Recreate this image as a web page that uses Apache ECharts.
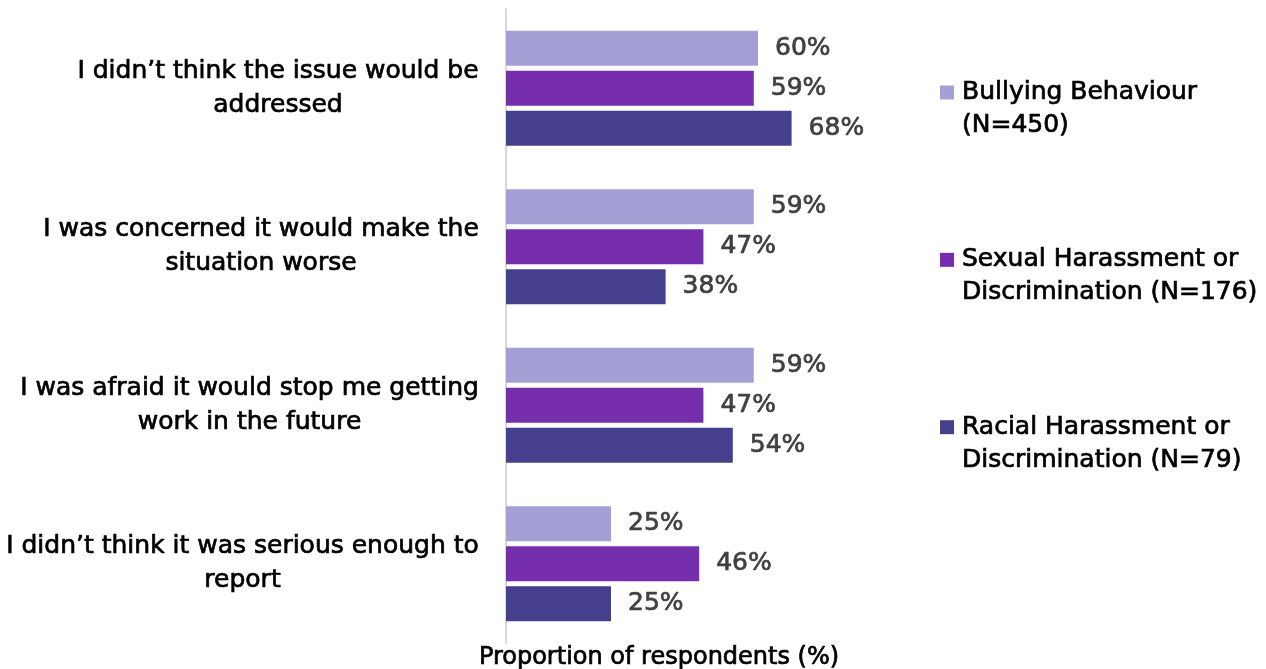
<!DOCTYPE html>
<html>
<head>
<meta charset="utf-8">
<script src="https://cdn.jsdelivr.net/npm/echarts@6/dist/echarts.min.js"></script>
<style>
  html, body { margin: 0; padding: 0; background: #ffffff; }
  #chart { width: 1266px; height: 669px; }
</style>
</head>
<body>
<div id="chart"></div>
<script>
// Reasons for not reporting, by type of experience
const categories = [
  "I didn\u2019t think the issue would be\naddressed",
  "I was concerned it would make the\nsituation worse",
  "I was afraid it would stop me getting\nwork in the future",
  "I didn\u2019t think it was serious enough to\nreport"
];
const seriesNames = [
  "Bullying Behaviour\n(N=450)",
  "Sexual Harassment or\nDiscrimination (N=176)",
  "Racial Harassment or\nDiscrimination (N=79)"
];
const bullying = [60, 59, 59, 25];
const sexual = [59, 47, 47, 46];
const racial = [68, 38, 54, 25];
const colors = ["#A49FD5", "#762EAD", "#463F8D"];

const FONT_FAMILY = "'DejaVu Sans', 'Liberation Sans', Arial, sans-serif";
const FONT_SIZE = 25;
const HEAVY = 0.7; // thin outline in the text colour gives a medium weight

// Width of the widest line of each category label, so every line can be
// centred inside one box that sits right-aligned against the axis.
const ctx = document.createElement("canvas").getContext("2d");
ctx.font = FONT_SIZE + "px " + FONT_FAMILY;
const labelRich = {};
categories.forEach(function (c, i) {
  const w = Math.max.apply(null, c.split("\n").map(function (l) { return ctx.measureText(l).width; }));
  labelRich["c" + i] = {
    width: Math.ceil(w) + 2,
    align: "center",
    color: "#000000",
    textBorderColor: "#000000",
    textBorderWidth: HEAVY,
    fontFamily: FONT_FAMILY,
    fontSize: FONT_SIZE,
    lineHeight: 34
  };
});

function makeSeries(name, data, color) {
  return {
    name: name,
    type: "bar",
    data: data,
    barWidth: 35,
    barGap: "14%",
    itemStyle: { color: color },
    label: {
      show: true,
      position: "right",
      distance: 17,
      formatter: "{c}%",
      color: "#404040",
      textBorderColor: "#404040",
      textBorderWidth: HEAVY,
      fontFamily: FONT_FAMILY,
      fontSize: FONT_SIZE
    },
    emphasis: { disabled: true }
  };
}

const chart = echarts.init(document.getElementById("chart"), null, { renderer: "canvas" });
chart.setOption({
  animation: false,
  backgroundColor: "#ffffff",
  textStyle: { fontFamily: FONT_FAMILY },
  grid: { left: 506, top: 9, width: 420, height: 634, outerBoundsMode: "none", containLabel: false },
  xAxis: {
    type: "value",
    min: 0,
    max: 100,
    axisLine: { show: false },
    axisTick: { show: false },
    axisLabel: { show: false },
    splitLine: { show: false },
    name: "Proportion of respondents (%)",
    nameLocation: "middle",
    nameGap: 3,
    nameTextStyle: {
      color: "#000000",
      textBorderColor: "#000000",
      textBorderWidth: HEAVY,
      fontFamily: FONT_FAMILY,
      fontSize: 24,
      padding: [0, 114, 0, 0]
    }
  },
  yAxis: {
    type: "category",
    inverse: true,
    data: categories,
    axisLine: { show: true, lineStyle: { color: "#D9D9D9", width: 2 } },
    axisTick: { show: false },
    axisLabel: {
      margin: 26,
      align: "right",
      formatter: function (value, index) {
        return value.split("\n").map(function (l) { return "{c" + index + "|" + l + "}"; }).join("\n");
      },
      rich: labelRich
    }
  },
  legend: {
    orient: "vertical",
    left: 940,
    top: 47,
    padding: 0,
    itemWidth: 14,
    itemHeight: 14,
    itemGap: 76,
    icon: "rect",
    data: seriesNames,
    // a blank first row keeps the marker level with the first text line
    formatter: function (name) {
      return "{s| }\n" + name.split("\n").map(function (l) { return "{t|" + l + "}"; }).join("\n");
    },
    textStyle: {
      rich: {
        s: { fontSize: FONT_SIZE, lineHeight: 33, fontFamily: FONT_FAMILY },
        t: {
          color: "#000000",
          textBorderColor: "#000000",
          textBorderWidth: HEAVY,
          fontSize: FONT_SIZE,
          lineHeight: 33,
          fontFamily: FONT_FAMILY,
          padding: [0, 0, 0, 3]
        }
      }
    }
  },
  series: [
    makeSeries(seriesNames[0], bullying, colors[0]),
    makeSeries(seriesNames[1], sexual, colors[1]),
    makeSeries(seriesNames[2], racial, colors[2])
  ]
});
</script>
</body>
</html>
